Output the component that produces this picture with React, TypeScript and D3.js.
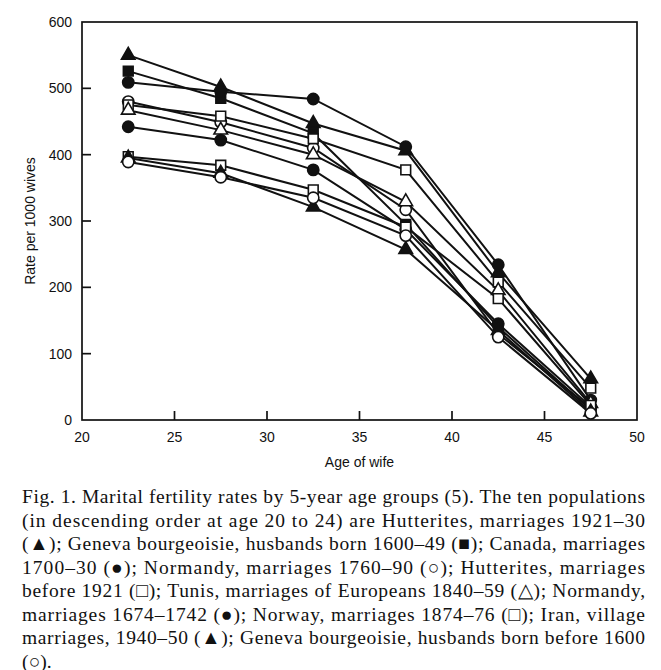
import React from "react";
import * as d3 from "d3";

// midpoints of the 5-year age groups of the wife
const ageMid = [22.5, 27.5, 32.5, 37.5, 42.5, 47.5];
const xTicks = [20, 25, 30, 35, 40, 45, 50];
const yTicks = [0, 100, 200, 300, 400, 500, 600];

// rates per 1000 wives
const hutterites1921 = [550, 502, 447, 406, 222, 62];
const geneva1600 = [526, 485, 432, 295, 140, 15];
const canada1700 = [509, 495, 484, 412, 234, 30];
const normandy1760 = [480, 449, 410, 317, 130, 18];
const hutteritesBefore = [475, 458, 424, 377, 208, 48];
const tunis1840 = [467, 437, 400, 329, 195, 25];
const normandy1674 = [442, 422, 377, 287, 145, 20];
const norway1874 = [397, 384, 347, 291, 183, 22];
const iran1940 = [395, 372, 321, 257, 135, 12];
const genevaBefore = [389, 366, 335, 278, 125, 10];

const series = [
  { values: hutterites1921, shape: "triangle", filled: true },
  { values: geneva1600, shape: "square", filled: true },
  { values: canada1700, shape: "circle", filled: true },
  { values: normandy1760, shape: "circle", filled: false },
  { values: hutteritesBefore, shape: "square", filled: false },
  { values: tunis1840, shape: "triangle", filled: false },
  { values: normandy1674, shape: "circle", filled: true },
  { values: norway1874, shape: "square", filled: false },
  { values: iran1940, shape: "triangle", filled: true },
  { values: genevaBefore, shape: "circle", filled: false },
];

const captionLines = [
  "Fig. 1. Marital fertility rates by 5-year age groups (5). The ten populations",
  "(in descending order at age 20 to 24) are Hutterites, marriages 1921\u201330",
  "(\u25B2); Geneva bourgeoisie, husbands born 1600\u201349 (\u25A0); Canada, marriages",
  "1700\u201330 (\u25CF); Normandy, marriages 1760\u201390 (\u25CB); Hutterites, marriages",
  "before 1921 (\u25A1); Tunis, marriages of Europeans 1840\u201359 (\u25B3); Normandy,",
  "marriages 1674\u20131742 (\u25CF); Norway, marriages 1874\u201376 (\u25A1); Iran, village",
  "marriages, 1940\u201350 (\u25B2); Geneva bourgeoisie, husbands born before 1600",
  "(\u25CB).",
];

const symbolPath = (shape: string) => {
  const type =
    shape === "triangle"
      ? d3.symbolTriangle
      : shape === "square"
      ? d3.symbolSquare
      : d3.symbolCircle;
  const size = shape === "triangle" ? 80 : shape === "square" ? 95 : 100;
  return d3.symbol().type(type).size(size)()!;
};

export default function App() {
  const left = 82,
    right = 637,
    top = 22,
    bottom = 420;
  const x = d3.scaleLinear().domain([20, 50]).range([left, right]);
  const y = d3.scaleLinear().domain([0, 600]).range([bottom, top]);
  const line = d3
    .line<number>()
    .x((_, i) => x(ageMid[i]))
    .y((v) => y(v));

  const sans = "Liberation Sans, Arial, sans-serif";
  const serif = "Liberation Serif, Times New Roman, serif";

  return (
    <svg
      width={661}
      height={670}
      style={{ position: "absolute", left: 0, top: 0, background: "#fff" }}
    >
      <rect width={661} height={670} fill="#fff" />

      {/* frame */}
      <rect
        x={left}
        y={top}
        width={right - left}
        height={bottom - top}
        fill="none"
        stroke="#111"
        strokeWidth={1.7}
      />

      {/* y axis */}
      {yTicks.map((t) => (
        <g key={"y" + t}>
          {t > 0 && t < 600 && (
            <line
              x1={left}
              x2={left + 9}
              y1={y(t)}
              y2={y(t)}
              stroke="#111"
              strokeWidth={1.7}
            />
          )}
          <text
            x={left - 10}
            y={y(t)}
            dy="0.35em"
            textAnchor="end"
            fontFamily={sans}
            fontSize={14}
            fill="#111"
          >
            {t}
          </text>
        </g>
      ))}

      {/* x axis */}
      {xTicks.map((t) => (
        <g key={"x" + t}>
          {t > 20 && t < 50 && (
            <line
              x1={x(t)}
              x2={x(t)}
              y1={bottom}
              y2={bottom - 9}
              stroke="#111"
              strokeWidth={1.7}
            />
          )}
          <text
            x={x(t)}
            y={bottom + 22}
            textAnchor="middle"
            fontFamily={sans}
            fontSize={14}
            fill="#111"
          >
            {t}
          </text>
        </g>
      ))}

      <text
        x={(left + right) / 2}
        y={bottom + 47}
        textAnchor="middle"
        fontFamily={sans}
        fontSize={14}
        fill="#111"
      >
        Age of wife
      </text>
      <text
        transform={`translate(35,${(top + bottom) / 2}) rotate(-90)`}
        textAnchor="middle"
        fontFamily={sans}
        fontSize={14}
        fill="#111"
      >
        Rate per 1000 wives
      </text>

      {/* lines */}
      {series.map((s, i) => (
        <path
          key={"l" + i}
          d={line(s.values)!}
          fill="none"
          stroke="#111"
          strokeWidth={2}
        />
      ))}

      {/* markers */}
      {series.map((s, i) =>
        s.values.map((v, j) => (
          <path
            key={"m" + i + "-" + j}
            d={symbolPath(s.shape)}
            transform={`translate(${x(ageMid[j])},${y(v)})`}
            fill={s.filled ? "#111" : "#fff"}
            stroke="#111"
            strokeWidth={1.6}
          />
        ))
      )}

      {/* caption */}
      {captionLines.map((txt, i) => (
        <text
          key={"c" + i}
          x={22}
          y={503 + i * 23.5}
          fontFamily={serif}
          fontSize={19.5}
          fill="#111"
          {...(i < captionLines.length - 1
            ? { textLength: 623, lengthAdjust: "spacing" }
            : {})}
        >
          {txt}
        </text>
      ))}
    </svg>
  );
}
